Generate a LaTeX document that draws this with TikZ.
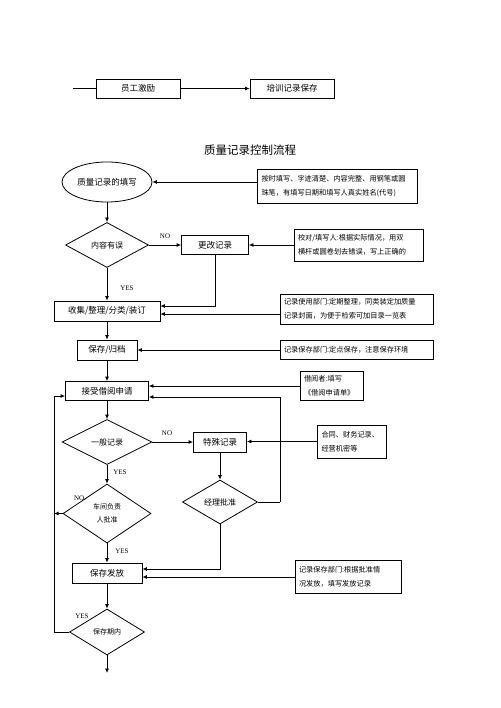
\documentclass[tikz,border=0pt]{standalone}
\usepackage{fontspec}
\setmainfont{Liberation Serif}
\newfontfamily\cjk{Noto Sans CJK SC}
\usetikzlibrary{shapes.geometric,arrows.meta,calc}

\begin{document}
\begin{tikzpicture}[x=1pt, y=-1pt, line width=0.8pt]
    \tikzset{
        box/.style={draw, rectangle, inner sep=0pt, font=\cjk\fontsize{8.5}{10}\selectfont},
        note/.style={draw, rectangle, inner sep=4pt, align=left, font=\cjk\fontsize{7.2}{14}\selectfont},
        ask/.style={draw, diamond, aspect=2, inner sep=0pt, align=center, font=\cjk\fontsize{8}{10}\selectfont},
        arr/.style={-{Latex[length=4.5pt,width=4pt]}},
        tag/.style={inner sep=0pt, font=\fontsize{7}{8}\selectfont}
    }
    \useasboundingbox (0,0) rectangle (500,708);

    %% top row
    \node[box, minimum width=84pt, minimum height=19pt] (staff) at (138,88.5) {员工激励};
    \node[box, minimum width=84pt, minimum height=19pt] (train) at (292,88.5) {培训记录保存};
    \coordinate (in) at (73,88.5);
    \draw (in) -- (staff);
    \draw[arr] (staff) -- (train);

    \node[font=\cjk\fontsize{11.5}{12}\selectfont] (title) at (250,150) {质量记录控制流程};

    %% main column
    \node[draw, ellipse, minimum width=90pt, minimum height=40pt, inner sep=0pt,
          font=\cjk\fontsize{8.5}{10}\selectfont] (fill) at (107,182) {质量记录的填写};
    \node[ask, minimum width=83pt, minimum height=45pt] (check) at (107,245) {内容有误};
    \node[box, minimum width=67pt, minimum height=19pt] (modify) at (215,245) {更改记录};
    \node[box, minimum width=106pt, minimum height=20pt] (collect) at (107,311) {收集/整理/分类/装订};
    \node[box, minimum width=60pt, minimum height=20pt] (archive) at (107,350) {保存/归档};
    \node[box, minimum width=83pt, minimum height=19pt] (accept) at (107,391) {接受借阅申请};
    \node[ask, minimum width=90pt, minimum height=45pt] (general) at (107,442) {一般记录};
    \node[box, minimum width=53pt, minimum height=20pt] (special) at (220,442) {特殊记录};
    \node[ask, minimum width=75pt, minimum height=44pt] (manager) at (220,502) {经理批准};
    \node[ask, minimum width=88pt, minimum height=59pt,
          font=\cjk\fontsize{7}{13}\selectfont] (workshop) at (107,513.5) {车间负责\\人批准};
    \node[box, minimum width=70pt, minimum height=20pt] (release) at (107,573) {保存发放};
    \node[ask, minimum width=75pt, minimum height=46pt,
          font=\cjk\fontsize{7}{8}\selectfont] (period) at (107,632) {保存期内};
    \coordinate (out) at (107,673);

    %% notes on the right
    \node[note, text width=152pt, minimum height=34pt] (note1) at (337.5,186)
        {按时填写、字迹清楚、内容完整、用钢笔或圆\\珠笔，有填写日期和填写人真实姓名(代号)};
    \node[note, text width=121pt, minimum height=32pt] (note2) at (358.5,245)
        {校对/填写人:根据实际情况，用双\\横杆或圆卷划去错误，写上正确的};
    \node[note, text width=145pt, minimum height=30pt] (note3) at (356.5,309)
        {记录使用部门:定期整理，同类装定加质量\\记录封面，为便于检索可加目录一览表};
    \node[note, text width=145pt, minimum height=19pt] (note4) at (356.5,350)
        {记录保存部门:定点保存，注意保存环境};
    \node[note, text width=55pt, minimum height=29pt] (note5) at (331.5,386)
        {借阅者:填写\\《借阅申请单》};
    \node[note, text width=61pt, minimum height=33pt] (note6) at (352,441.5)
        {合同、财务记录、\\经营机密等};
    \node[note, text width=98pt, minimum height=33pt] (note7) at (348,577)
        {记录保存部门:根据批准情\\况发放，填写发放记录};

    %% flow
    \draw[arr] (fill) -- (check);
    \draw[arr] (note1.west |- fill.east) -- (fill.east);
    \draw[arr] (check.east) -- (check.east -| modify.west);
    \draw[arr] (note2.west) -- (note2.west -| modify.east);
    \draw[arr] (check) -- (collect);
    \draw[arr] (modify) |- ($(collect.east)+(0,-5)$);
    \draw[arr] ($(note3.west)+(0,5)$) -- ($(collect.east)+(0,3)$);
    \draw[arr] (collect) -- (archive);
    \draw[arr] (note4) -- (archive);
    \draw[arr] (archive) -- (accept);
    \draw[arr] (note5.west) -- (note5.west -| accept.east);
    \draw[arr] (accept) -- (general);
    \draw[arr] (general) -- (special);
    \draw[arr] (note6.west) -- (note6.west -| special.east);
    \draw[arr] (special) -- (manager);
    \coordinate (loopR) at (280,502);
    \draw (manager.east) -- (loopR);
    \draw[arr] (loopR) |- ($(accept.east)+(0,6)$);
    \draw[arr] (general) -- (workshop);
    \draw[arr] (workshop) -- (release);
    \draw[arr] (manager) |- ($(release.east)+(0,-4)$);
    \draw[arr] (note7.west) -- (note7.west -| release.east);
    \draw[arr] (release) -- (period);
    \draw[arr] (period) -- (out);
    \coordinate (loopL) at (54,632);
    \draw (period.west) -- (loopL);
    \draw[arr] (loopL) |- ($(accept.west)+(0,5)$);
    \draw[arr] (workshop.west) -- (workshop.west -| loopL);

    %% yes / no labels
    \foreach \x/\y/\t [count=\i] in {165/236/NO, 127/288/YES, 167/433/NO, 120/472/YES,
                                     80/498/NO., 122/551/YES, 82/616/YES}
        \node[tag] (tag\i) at (\x,\y) {\t};
\end{tikzpicture}
\end{document}
